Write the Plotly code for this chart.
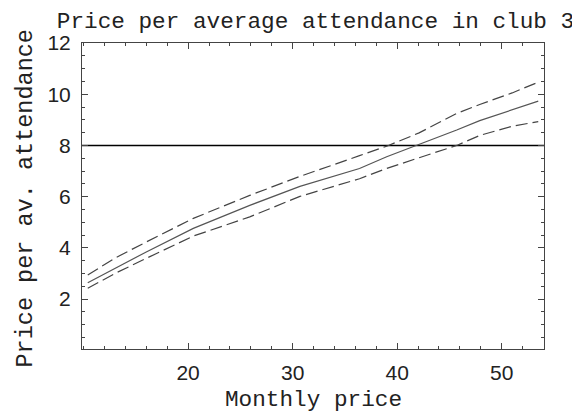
import plotly.graph_objects as go

# Data
x_vals = [10.4, 13.0, 16.0, 20.5, 25.9, 30.7, 36.4, 39.0, 42.1, 45.7, 47.9, 51.0, 53.5]
upper = [2.94, 3.60, 4.23, 5.15, 6.05, 6.79, 7.60, 7.97, 8.49, 9.25, 9.60, 10.05, 10.47]
middle = [2.64, 3.20, 3.84, 4.76, 5.66, 6.40, 7.10, 7.56, 8.03, 8.60, 8.97, 9.40, 9.73]
lower = [2.42, 3.00, 3.59, 4.46, 5.21, 6.01, 6.70, 7.10, 7.52, 8.00, 8.39, 8.75, 8.93]
threshold = 8
x_ticks = [20, 30, 40, 50]
y_ticks = [2, 4, 6, 8, 10, 12]
x_range = [9.85, 54.05]
y_range = [0.05, 12.0]

MONO = "Liberation Mono"
SANS = "Liberation Sans"

# The page body adds an 8px offset, so the figure is drawn 8px smaller
OFF = 8
W, H = 580 - OFF, 414 - OFF
L, T, PW, PH = 82 - OFF, 43 - OFF, 462, 306

fig = go.Figure()
fig.add_trace(go.Scatter(x=x_range, y=[threshold, threshold], mode="lines",
                         line=dict(color="#000000", width=1.5), showlegend=False))
fig.add_trace(go.Scatter(x=x_vals, y=upper, mode="lines",
                         line=dict(color="#444444", width=1.2, dash="12px,5px"), showlegend=False))
fig.add_trace(go.Scatter(x=x_vals, y=middle, mode="lines",
                         line=dict(color="#555555", width=1.2), showlegend=False))
fig.add_trace(go.Scatter(x=x_vals, y=lower, mode="lines",
                         line=dict(color="#444444", width=1.2, dash="12px,5px"), showlegend=False))

axis_common = dict(
    showgrid=False, zeroline=False, showline=True, linecolor="#444444", linewidth=1,
    mirror="allticks", ticks="inside", ticklen=6, tickwidth=1, tickcolor="#444444",
    tickfont=dict(family=SANS, size=21, color="#222222"),
)

fig.update_xaxes(range=x_range, tickmode="array", tickvals=x_ticks, ticklabelstandoff=5,
                 minor=dict(ticks="inside", ticklen=3, dtick=2, tick0=0, tickcolor="#444444"),
                 **axis_common)
fig.update_yaxes(range=y_range, tickmode="array", tickvals=y_ticks, ticklabelstandoff=6,
                 minor=dict(ticks="inside", ticklen=3, dtick=0.5, tick0=0, tickcolor="#444444"),
                 **axis_common)

fig.update_layout(
    width=W, height=H,
    margin=dict(l=L, r=W - L - PW, t=T, b=H - T - PH, autoexpand=False),
    paper_bgcolor="white", plot_bgcolor="white",
    title=dict(text="Price per average attendance in club 3", x=(315.5 - OFF) / W, xanchor="center",
               y=1 - (20 - OFF) / H, yanchor="middle", yref="container",
               font=dict(family=MONO, size=22.7, color="#222222")),
    annotations=[
        dict(text="Monthly price", xref="paper", yref="paper", x=(313.7 - 82) / PW,
             y=-(400 - 349) / PH, xanchor="center", yanchor="middle", showarrow=False,
             font=dict(family=MONO, size=22.7, color="#222222")),
        dict(text="Price per av. attendance", xref="paper", yref="paper", x=-(82 - 25) / PW,
             y=(349 - 198.5) / PH, xanchor="center", yanchor="middle", showarrow=False,
             textangle=-90, font=dict(family=MONO, size=23.5, color="#222222")),
    ],
)

fig.write_html("out.html")
